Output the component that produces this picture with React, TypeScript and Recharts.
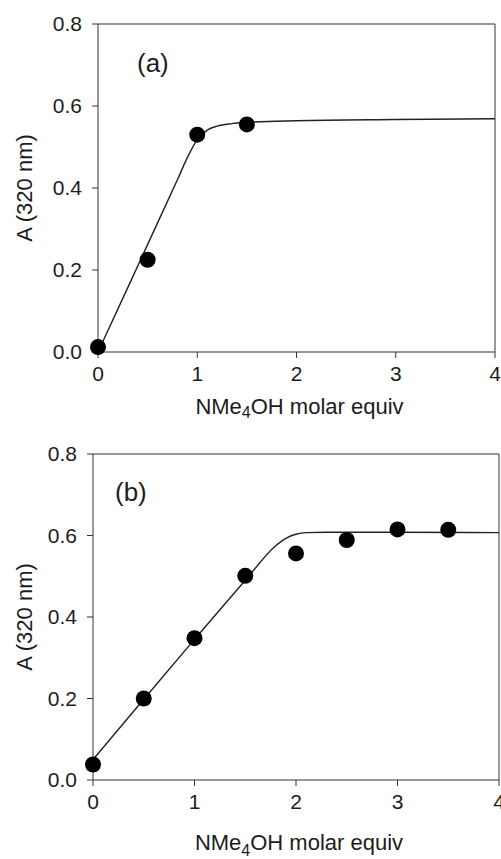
import React from 'react';
import {
    ComposedChart,
    Line,
    Scatter,
    XAxis,
    YAxis,
    ReferenceLine,
    Label,
} from 'recharts';

// panel (a) measured points
const aEquiv = [0, 0.5, 1, 1.5];
const aAbs = [0.012, 0.225, 0.53, 0.555];
// panel (a) fitted curve
const aFitEquiv = [0, 0.3, 0.6, 0.8, 0.9, 1.0, 1.1, 1.2, 1.35, 1.5, 2, 3, 4];
const aFitAbs = [0, 0.157, 0.315, 0.42, 0.474, 0.518, 0.541, 0.551, 0.557, 0.56, 0.564, 0.567, 0.569];

// panel (b) measured points
const bEquiv = [0, 0.5, 1, 1.5, 2, 2.5, 3, 3.5];
const bAbs = [0.038, 0.2, 0.348, 0.501, 0.556, 0.589, 0.615, 0.614];
// panel (b) fitted curve
const bFitEquiv = [0, 0.5, 1, 1.5, 1.8, 1.9, 2.0, 2.1, 2.3, 3, 4];
const bFitAbs = [0.05, 0.198, 0.345, 0.49, 0.575, 0.593, 0.603, 0.607, 0.608, 0.608, 0.607];

const xTicks = [0, 1, 2, 3, 4];
const yTicks = [0, 0.2, 0.4, 0.6, 0.8];

const FONT = '"Liberation Sans", Arial, sans-serif';
const INK = '#1c1c1c';

const toPoints = (xs: number[], ys: number[]) => xs.map((x, i) => ({ x, y: ys[i] }));

const Dot = (props: any) => <circle cx={props.cx} cy={props.cy} r={8} fill="#000" />;

interface PanelProps {
    height: number;
    margin: { top: number; right: number; bottom: number; left: number };
    yAxisWidth: number;
    points: { x: number; y: number }[];
    fit: { x: number; y: number }[];
    tag: string;
    tagLeft: number;
    tagTop: number;
    titleDy: number;
    subDy: number;
}

const Panel: React.FC<PanelProps> = ({ height, margin, yAxisWidth, points, fit, tag, tagLeft, tagTop, titleDy, subDy }) => {
    const tickStyle = { fill: INK, fontSize: 21, fontFamily: FONT };
    return (
        <div style={{ position: 'relative', width: 501, height }}>
            <ComposedChart width={501} height={height} margin={margin}>
                <XAxis
                    type="number"
                    dataKey="x"
                    domain={[0, 4]}
                    ticks={xTicks}
                    interval={0}
                    tick={tickStyle}
                    tickSize={6}
                    tickMargin={8}
                    height={60}
                    stroke="#333"
                >
                    <Label
                        content={(p: any) => {
                            const vb = p.viewBox;
                            return (
                                <text
                                    x={vb.x + vb.width / 2 + 3}
                                    y={vb.y + titleDy}
                                    textAnchor="middle"
                                    fill={INK}
                                    fontSize={22}
                                    fontFamily={FONT}
                                >
                                    NMe
                                    <tspan dy={subDy} fontSize={16}>4</tspan>
                                    <tspan dy={-subDy}>OH molar equiv</tspan>
                                </text>
                            );
                        }}
                    />
                </XAxis>
                <YAxis
                    type="number"
                    dataKey="y"
                    domain={[0, 0.8]}
                    ticks={yTicks}
                    interval={0}
                    width={yAxisWidth}
                    tick={tickStyle}
                    tickSize={6}
                    tickMargin={10}
                    tickFormatter={(v: number) => v.toFixed(1)}
                    stroke="#333"
                >
                    <Label
                        value="A (320 nm)"
                        angle={-90}
                        position="insideLeft"
                        offset={24}
                        style={{ textAnchor: 'middle', fill: INK, fontSize: 22, fontFamily: FONT }}
                    />
                </YAxis>
                <ReferenceLine y={0.8} stroke="#333" />
                <ReferenceLine x={4} stroke="#333" />
                <Line
                    data={fit}
                    dataKey="y"
                    type="monotone"
                    stroke="#222"
                    strokeWidth={1.4}
                    dot={false}
                    activeDot={false}
                    isAnimationActive={false}
                />
                <Scatter data={points} dataKey="y" fill="#000" shape={Dot} isAnimationActive={false} />
            </ComposedChart>
            <div
                style={{
                    position: 'absolute',
                    left: tagLeft,
                    top: tagTop,
                    fontFamily: FONT,
                    fontSize: 26,
                    color: INK,
                    lineHeight: 1,
                }}
            >
                {tag}
            </div>
        </div>
    );
};

export default function App() {
    return (
        <div style={{ position: 'absolute', left: 0, top: 0, width: 501, height: 859, background: '#fff' }}>
            <Panel
                height={430}
                margin={{ top: 24, right: 6, bottom: 18, left: 0 }}
                yAxisWidth={98}
                points={toPoints(aEquiv, aAbs)}
                fit={toPoints(aFitEquiv, aFitAbs)}
                tag="(a)"
                tagLeft={137}
                tagTop={50}
                titleDy={62}
                subDy={4}
            />
            <Panel
                height={429}
                margin={{ top: 24, right: 2, bottom: 19, left: 0 }}
                yAxisWidth={93}
                points={toPoints(bEquiv, bAbs)}
                fit={toPoints(bFitEquiv, bFitAbs)}
                tag="(b)"
                tagLeft={115}
                tagTop={49}
                titleDy={70}
                subDy={6}
            />
        </div>
    );
}
